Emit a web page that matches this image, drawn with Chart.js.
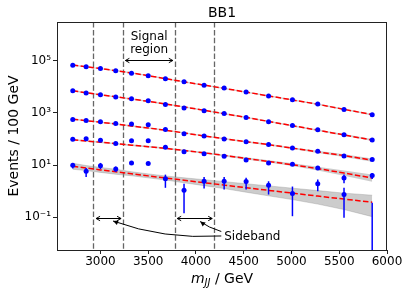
<!DOCTYPE html>
<html>
<head>
<meta charset="utf-8">
<script src="https://cdn.jsdelivr.net/npm/chart.js@4.4.0/dist/chart.umd.min.js"></script>
<style>
  html, body { margin: 0; padding: 0; background: #fff; }
  canvas { display: block; }
</style>
</head>
<body>
<canvas id="chart" width="407" height="295"></canvas>
<script>
// bin centres in GeV
const mjj = [2710, 2850, 3000, 3160, 3325, 3500, 3680, 3875, 4085, 4295, 4525, 4760, 5010, 5275, 5550, 5845];

// upper four curves: points and fit
const ptsA = [68400, 58900, 50700, 41400, 33800, 26700, 20500, 15700, 11700, 9020, 6330, 4450, 3210, 2200, 1370, 857];
const fitA = [68900, 59200, 50400, 41900, 34300, 27000, 20800, 15700, 11700, 8790, 6340, 4510, 3160, 2160, 1380, 861];
const ptsB = [7100, 5800, 4990, 4070, 3510, 2940, 2120, 1550, 1220, 960, 675, 462, 333, 228, 147, 92];
const fitB = [7080, 5960, 5010, 4170, 3430, 2790, 2210, 1700, 1270, 933, 676, 473, 324, 219, 143, 91];
const ptsC = [566, 518, 462, 398, 378, 355, 234, 160, 131, 100, 79, 61, 45.5, 33.7, 22.4, 16.2];
const fitC = [575, 505, 442, 377, 316, 265, 218, 171, 131, 103, 79, 61, 44.7, 32.2, 23.1, 15.5];
const ptsD = [97, 103, 89, 68, 86.5, 86.5, 48, 32.8, 27.5, 21.7, 15.8, 12.1, 10.7, 7.8, 3.2, 3.95];
const fitD = [94.5, 84.3, 75.2, 66.4, 58.2, 51.0, 43.9, 36.5, 29.5, 23.5, 18.0, 13.8, 10.3, 7.33, 4.93, 3.18];
const errLoD = [null, null, null, null, null, null, null, null, null, null, null, null, null, 6.8, 2.0, 2.9];
const errHiD = [null, null, null, null, null, null, null, null, null, null, null, null, null, 8.9, 4.3, 5.0];

// fractional half-width of the fit uncertainty band
const bandRelA = [0.06, 0.06, 0.06, 0.06, 0.06, 0.06, 0.06, 0.06, 0.06, 0.06, 0.06, 0.06, 0.06, 0.06, 0.07, 0.07];
const bandRelB = [0.06, 0.06, 0.06, 0.06, 0.06, 0.06, 0.06, 0.06, 0.06, 0.06, 0.06, 0.06, 0.07, 0.07, 0.08, 0.09];
const bandRelC = [0.06, 0.06, 0.06, 0.06, 0.06, 0.06, 0.06, 0.06, 0.06, 0.07, 0.07, 0.08, 0.09, 0.1, 0.12, 0.15];
const bandRelD = [0.07, 0.07, 0.07, 0.07, 0.07, 0.07, 0.07, 0.08, 0.08, 0.09, 0.1, 0.11, 0.13, 0.18, 0.26, 0.38];

// bottom curve: data with errors, fit and band
const dataE = [9.8, 5.8, 9.5, 7.1, 12.1, 11.4, 2.96, 1.08, 2.39, 2.39, 2.33, 1.68, 0.81, 1.90, 0.74, null];
const errLoE = [7.4, 3.5, 7.0, 5.5, null, null, 1.34, 0.14, 1.26, 1.15, 1.15, 0.74, 0.109, 0.99, 0.095, 0];
const errHiE = [12.1, 7.8, 12.1, 8.75, null, null, 4.3, 1.90, 3.52, 3.52, 3.23, 2.39, 1.50, 2.78, 1.34, 0.356];
const fitE = [8.98, 7.69, 6.53, 5.53, 4.64, 3.85, 3.20, 2.61, 2.11, 1.70, 1.35, 1.07, 0.838, 0.644, 0.494, 0.376];
const bandHiE = [11.7, 9.59, 8.14, 6.90, 5.54, 4.59, 3.82, 3.25, 2.75, 2.31, 1.92, 1.59, 1.30, 1.05, 0.838, 0.697];
const bandLoE = [6.89, 6.17, 5.24, 4.44, 3.89, 3.23, 2.68, 2.09, 1.62, 1.25, 0.909, 0.659, 0.473, 0.318, 0.196, 0.105];

const xTicks = [3000, 3500, 4000, 4500, 5000, 5500, 6000];
const yTicks = [0.1, 10, 1000, 100000];
const yTickLabels = ['10⁻¹', '10¹', '10³', '10⁵'];

// sideband / signal region boundaries
const regionLines = [2926, 3240, 3779, 4188];

const FONT = '"DejaVu Sans", sans-serif';
const xy = arr => arr.map((v, i) => ({ x: mjj[i], y: v }));

const datasets = [];
function addCurve(pts, fit, hi, lo, edge) {
  datasets.push({ data: xy(hi), borderColor: 'rgba(128,128,128,0.5)', borderWidth: edge,
    backgroundColor: 'rgba(128,128,128,0.4)', fill: '+1', pointRadius: 0, order: 3 });
  datasets.push({ data: xy(lo), borderColor: 'rgba(128,128,128,0.5)', borderWidth: edge,
    fill: false, pointRadius: 0, order: 3 });
  datasets.push({ data: xy(fit), borderColor: '#ff0000', borderWidth: 1.5, borderDash: [5.5, 2.4],
    fill: false, pointRadius: 0, order: 2 });
  datasets.push({ data: xy(pts), showLine: false, pointRadius: 2.5, pointBorderWidth: 0,
    pointBackgroundColor: '#0000ff', order: 1 });
}
[[ptsA, fitA, bandRelA], [ptsB, fitB, bandRelB], [ptsC, fitC, bandRelC], [ptsD, fitD, bandRelD]].forEach(([p, f, r]) => {
  addCurve(p, f, f.map((v, i) => v * (1 + r[i])), f.map((v, i) => v / (1 + r[i])), 0);
});
addCurve(dataE, fitE, bandHiE, bandLoE, 0.6);

const errorBars = {
  id: 'errorBars',
  afterDatasetsDraw(chart) {
    const { ctx, chartArea: a, scales: { x, y } } = chart;
    ctx.save();
    ctx.beginPath();
    ctx.rect(a.left, a.top, a.width, a.height);
    ctx.clip();
    ctx.strokeStyle = '#0000ff';
    ctx.lineWidth = 1.5;
    const draw = (lo, hi) => lo.forEach((l, i) => {
      if (l == null || hi[i] == null) return;
      const px = x.getPixelForValue(mjj[i]);
      const y1 = l > 0 ? y.getPixelForValue(l) : a.bottom + 2;
      ctx.beginPath();
      ctx.moveTo(px, y1);
      ctx.lineTo(px, y.getPixelForValue(hi[i]));
      ctx.stroke();
    });
    draw(errLoD, errHiD);
    draw(errLoE, errHiE);
    ctx.restore();
  }
};

function arrowHead(ctx, x0, y0, x1, y1, len, half, filled) {
  const ang = Math.atan2(y1 - y0, x1 - x0);
  const c = Math.cos(ang), s = Math.sin(ang);
  const bx = x1 - len * c, by = y1 - len * s;
  ctx.beginPath();
  ctx.moveTo(bx - half * s, by + half * c);
  ctx.lineTo(x1, y1);
  ctx.lineTo(bx + half * s, by - half * c);
  if (filled) { ctx.closePath(); ctx.fill(); } else ctx.stroke();
}

function doubleArrow(ctx, x1, x2, yy) {
  ctx.beginPath();
  ctx.moveTo(x1, yy);
  ctx.lineTo(x2, yy);
  ctx.stroke();
  arrowHead(ctx, x2, yy, x1, yy, 4, 2.2, false);
  arrowHead(ctx, x1, yy, x2, yy, 4, 2.2, false);
}

const decorations = {
  id: 'decorations',
  beforeDatasetsDraw(chart) {
    const { ctx, chartArea: a, scales: { x } } = chart;
    ctx.save();
    ctx.strokeStyle = '#666';
    ctx.lineWidth = 1.3;
    ctx.setLineDash([5.5, 2.4]);
    regionLines.forEach(v => {
      const px = Math.round(x.getPixelForValue(v)) + 0.5;
      ctx.beginPath();
      ctx.moveTo(px, a.top);
      ctx.lineTo(px, a.bottom);
      ctx.stroke();
    });
    ctx.restore();
  },
  afterDraw(chart) {
    const { ctx, chartArea: a, scales: { x, y } } = chart;
    ctx.save();
    // frame
    ctx.strokeStyle = '#222';
    ctx.lineWidth = 1;
    ctx.strokeRect(a.left + 0.5, a.top + 0.5, a.width - 1, a.height);

    ctx.fillStyle = '#000';
    ctx.strokeStyle = '#000';
    ctx.lineWidth = 1;

    // title
    ctx.font = '14px ' + FONT;
    ctx.textAlign = 'center';
    ctx.textBaseline = 'alphabetic';
    ctx.fillText('BB1', (a.left + a.right) / 2, 17);

    // y label
    ctx.save();
    ctx.translate(18, (a.top + a.bottom) / 2);
    ctx.rotate(-Math.PI / 2);
    ctx.fillText('Events / 100 GeV', 0, 0);
    ctx.restore();

    // x label: m_JJ / GeV
    const parts = [['italic 14px ' + FONT, 'm', 0], ['italic 10px ' + FONT, 'JJ', 3], ['14px ' + FONT, ' / GeV', 0]];
    let total = 0;
    parts.forEach(p => { ctx.font = p[0]; total += ctx.measureText(p[1]).width; });
    let cx = (a.left + a.right) / 2 - total / 2;
    ctx.textAlign = 'left';
    parts.forEach(p => {
      ctx.font = p[0];
      ctx.fillText(p[1], cx, 283 + p[2]);
      cx += ctx.measureText(p[1]).width;
    });

    // signal region label and arrow
    ctx.font = '12px ' + FONT;
    ctx.textAlign = 'center';
    ctx.textBaseline = 'middle';
    const sx = x.getPixelForValue(3510);
    ctx.fillText('Signal', sx, y.getPixelForValue(8.45e5));
    ctx.fillText('region', sx, y.getPixelForValue(2.73e5));
    const sy = Math.round(y.getPixelForValue(1.108e5)) + 0.5;
    doubleArrow(ctx, x.getPixelForValue(3261), x.getPixelForValue(3758), sy);

    // sideband arrows
    const by = Math.round(y.getPixelForValue(0.095)) + 0.5;
    doubleArrow(ctx, x.getPixelForValue(2954), x.getPixelForValue(3216), by);
    doubleArrow(ctx, x.getPixelForValue(3803), x.getPixelForValue(4170), by);

    ctx.textAlign = 'left';
    ctx.fillText('Sideband', x.getPixelForValue(4296), y.getPixelForValue(0.0178));

    // curved pointers from the label
    const p0 = [x.getPixelForValue(4265), y.getPixelForValue(0.019)];
    const c1 = [x.getPixelForValue(3656), y.getPixelForValue(0.0139)];
    const t1 = [x.getPixelForValue(3132), y.getPixelForValue(0.0713)];
    ctx.beginPath();
    ctx.moveTo(p0[0], p0[1]);
    ctx.quadraticCurveTo(c1[0], c1[1], t1[0], t1[1]);
    ctx.stroke();
    arrowHead(ctx, c1[0], c1[1], t1[0], t1[1], 5, 2.5, true);

    const p1 = [x.getPixelForValue(4265), y.getPixelForValue(0.0282)];
    const c2 = [x.getPixelForValue(4128), y.getPixelForValue(0.0402)];
    const t2 = [x.getPixelForValue(4044), y.getPixelForValue(0.0682)];
    ctx.beginPath();
    ctx.moveTo(p1[0], p1[1]);
    ctx.quadraticCurveTo(c2[0], c2[1], t2[0], t2[1]);
    ctx.stroke();
    arrowHead(ctx, c2[0], c2[1], t2[0], t2[1], 5, 2.5, true);
    ctx.restore();
  }
};

new Chart(document.getElementById('chart'), {
  type: 'line',
  data: { datasets },
  options: {
    responsive: false,
    animation: false,
    devicePixelRatio: 1,
    layout: { padding: { top: 22, right: 20, left: 0, bottom: 0 } },
    plugins: { legend: { display: false }, tooltip: { enabled: false } },
    scales: {
      x: {
        type: 'linear',
        min: 2545,
        max: 6000,
        afterBuildTicks: s => { s.ticks = xTicks.map(v => ({ value: v })); },
        afterFit: s => { s.height = 45; },
        border: { display: false },
        grid: { drawOnChartArea: false, drawTicks: true, tickLength: 4, color: '#222' },
        ticks: {
          font: { family: FONT, size: 12 }, color: '#000', padding: 1, maxRotation: 0, autoSkip: false,
          callback: v => String(v)
        }
      },
      y: {
        type: 'logarithmic',
        min: 0.0055,
        max: 3.1e6,
        afterBuildTicks: s => { s.ticks = yTicks.map(v => ({ value: v })); },
        afterFit: s => { s.width = 57; },
        border: { display: false },
        grid: { drawOnChartArea: false, drawTicks: true, tickLength: 4, color: '#222' },
        ticks: {
          font: { family: FONT, size: 12 }, color: '#000', padding: 2, autoSkip: false,
          callback: (v, i) => yTickLabels[i]
        }
      }
    }
  },
  plugins: [errorBars, decorations]
});
</script>
</body>
</html>
